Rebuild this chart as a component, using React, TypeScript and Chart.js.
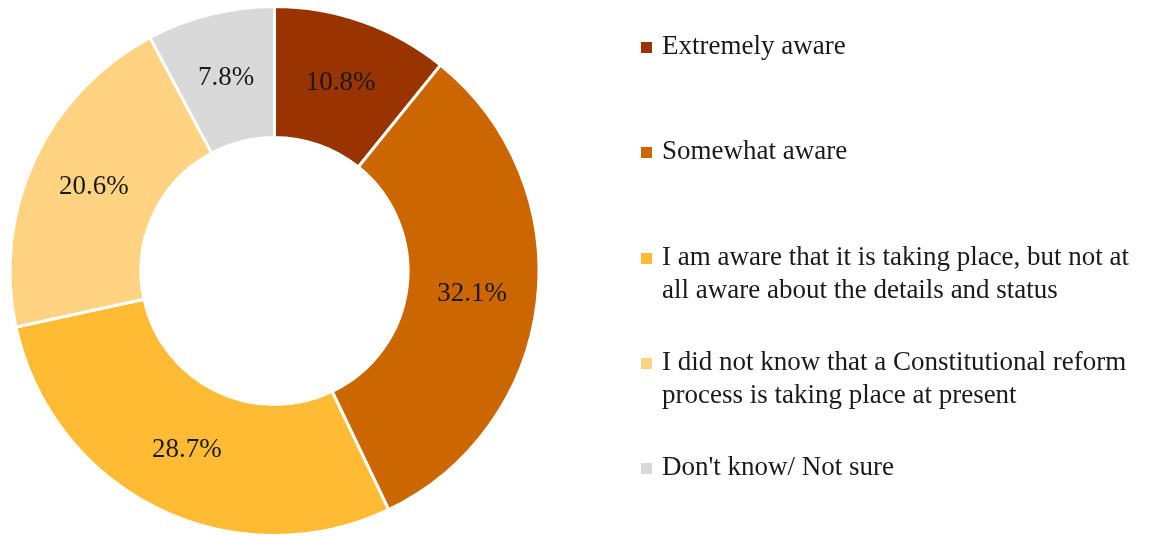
import React, { useEffect, useRef } from "react";
import { Chart, registerables } from "chart.js";

Chart.register(...registerables);

const categories: string[][] = [
  ["Extremely aware"],
  ["Somewhat aware"],
  ["I am aware that it is taking place, but not at", "all aware about the details and status"],
  ["I did not know that a Constitutional reform", "process is taking place at present"],
  ["Don't know/ Not sure"],
];
const values: number[] = [10.8, 32.1, 28.7, 20.6, 7.8];
const colors: string[] = ["#993300", "#CC6600", "#FFBB33", "#FFD382", "#D9D9D9"];

const FONT = "'Liberation Serif', 'Times New Roman', serif";

const sliceLabels = {
  id: "sliceLabels",
  afterDatasetsDraw(chart: any) {
    const ctx = chart.ctx;
    const meta = chart.getDatasetMeta(0);
    ctx.save();
    ctx.font = `27px ${FONT}`;
    ctx.fillStyle = "#1a1a1a";
    ctx.textAlign = "center";
    ctx.textBaseline = "middle";
    meta.data.forEach((arc: any, i: number) => {
      const p = arc.tooltipPosition();
      ctx.fillText(`${values[i].toFixed(1)}%`, p.x, p.y);
    });
    ctx.restore();
  },
};

const sideLegend = {
  id: "sideLegend",
  afterDraw(chart: any) {
    const ctx = chart.ctx;
    const labels = chart.data.labels as string[][];
    const bg = chart.data.datasets[0].backgroundColor as string[];
    const x0 = 641;
    const box = 11;
    const textX = 662;
    const firstBase = 54;
    const step = 105.25;
    const lineH = 33;
    ctx.save();
    ctx.font = `27px ${FONT}`;
    ctx.textBaseline = "alphabetic";
    ctx.textAlign = "left";
    labels.forEach((lines, i) => {
      const base = Math.round(firstBase + step * i);
      ctx.fillStyle = bg[i];
      ctx.fillRect(x0, base - box - 1, box, box);
      ctx.fillStyle = "#1a1a1a";
      lines.forEach((ln, j) => {
        ctx.fillText(ln, textX, base + j * lineH);
      });
    });
    ctx.restore();
  },
};

export default function App() {
  const ref = useRef<HTMLCanvasElement | null>(null);
  useEffect(() => {
    if (!ref.current) return;
    const chart = new Chart(ref.current, {
      type: "doughnut",
      data: {
        labels: categories,
        datasets: [
          {
            data: values,
            backgroundColor: colors,
            borderColor: "#ffffff",
            borderWidth: 3,
          },
        ],
      },
      options: {
        responsive: false,
        animation: false,
        cutout: "50.5%",
        layout: { padding: { left: 8.5, right: 612.5, top: 5, bottom: 0 } },
        plugins: {
          legend: { display: false },
          tooltip: { enabled: false },
        },
      },
      plugins: [sliceLabels, sideLegend],
    });
    return () => chart.destroy();
  }, []);
  return (
    <div style={{ position: "absolute", left: 0, top: 0, width: 1153, height: 537, background: "#fff" }}>
      <canvas ref={ref} width={1153} height={537} style={{ display: "block" }} />
    </div>
  );
}
